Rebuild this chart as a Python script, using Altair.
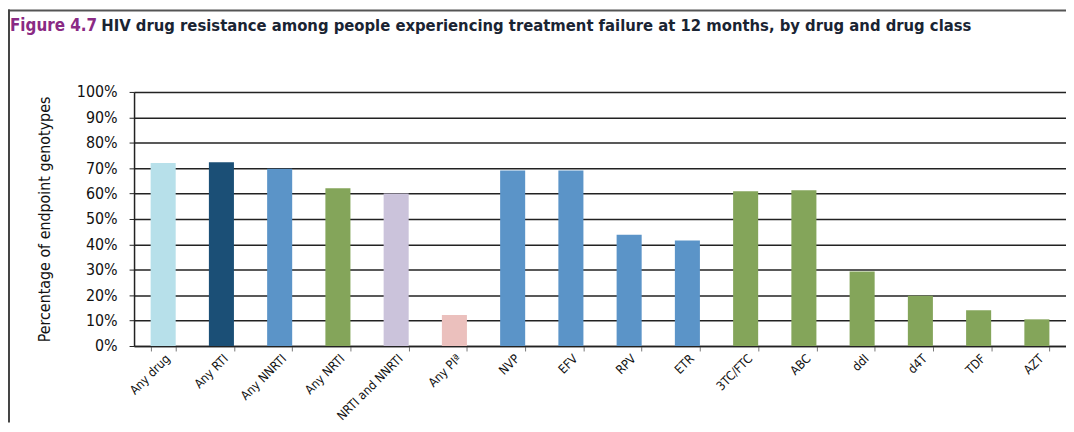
import altair as alt
import pandas as pd

categories = ["Any drug", "Any RTI", "Any NNRTI", "Any NRTI", "NRTI and NNRTI", "Any PIª",
              "NVP", "EFV", "RPV", "ETR", "3TC/FTC", "ABC", "ddI", "d4T", "TDF", "AZT"]
values = [72.0, 72.3, 69.8, 62.1, 60.0, 12.2, 69.1, 69.1, 43.8, 41.5, 60.9, 61.3, 29.3, 19.8, 14.1, 10.5]
y_ticks = [0, 10, 20, 30, 40, 50, 60, 70, 80, 90, 100]

palette = ["#B7E0EA", "#1B4F76", "#5B94C8", "#84A55A", "#CBC3DB", "#EBC0BD",
           "#5B94C8", "#5B94C8", "#5B94C8", "#5B94C8", "#84A55A", "#84A55A",
           "#84A55A", "#84A55A", "#84A55A", "#84A55A"]

title_fig = "Figure 4.7"
title_rest = "HIV drug resistance among people experiencing treatment failure at 12 months, by drug and drug class"
y_title = "Percentage of endpoint genotypes"

df = pd.DataFrame({"cat": categories, "val": values})

FONT = "DejaVu Sans Condensed, Roboto, sans-serif"

bars = alt.Chart(df).mark_bar().encode(
    x=alt.X("cat:N", sort=categories,
            scale=alt.Scale(paddingInner=0.57, paddingOuter=0.285),
            axis=alt.Axis(title=None, labelAngle=-45, labelFontSize=12.5, labelFont=FONT,
                          labelColor="#111", labelPadding=1, tickBand="extent",
                          tickSize=5, tickColor="#777", domainColor="#222", domainWidth=1.5,
                          grid=False)),
    y=alt.Y("val:Q", scale=alt.Scale(domain=[0, 100], nice=False),
            axis=alt.Axis(values=y_ticks, labelExpr="datum.value + '%'", title=y_title,
                          titleFont=FONT, titleFontSize=16, titleFontWeight="normal",
                          titleColor="#111", titleX=-90, titleY=128, titleAngle=-90,
                          titleAlign="center", titleBaseline="middle",
                          labelFont=FONT, labelFontSize=16, labelColor="#111", labelPadding=12,
                          tickSize=5, tickColor="#222", domainColor="#222", domainWidth=1.5,
                          grid=True, gridColor="#222", gridWidth=1.5)),
    color=alt.Color("cat:N", sort=categories,
                    scale=alt.Scale(domain=categories, range=palette), legend=None),
)

deco = alt.Data(values=[{}])

t1 = alt.Chart(deco).mark_text(text=title_fig, align="left", baseline="middle",
                               font=FONT, fontSize=17, fontWeight="bold", color="#8A2A84").encode(
    x=alt.value(-125), y=alt.value(-66))
t2 = alt.Chart(deco).mark_text(text=title_rest, align="left", baseline="middle",
                               font=FONT, fontSize=16.6, fontWeight="bold", color="#1A2433").encode(
    x=alt.value(-33), y=alt.value(-66))

top_line = alt.Chart(deco).mark_rule(color="#555", strokeWidth=2).encode(
    x=alt.value(-127), x2=alt.value(939), y=alt.value(-82))
left_line = alt.Chart(deco).mark_rule(color="#444", strokeWidth=2).encode(
    x=alt.value(-126), y=alt.value(-83), y2=alt.value(333))

chart = alt.layer(bars, t1, t2, top_line, left_line).properties(
    width=939, height=256,
    padding={"left": 127, "top": 83, "right": 0, "bottom": 77},
    autosize=alt.AutoSizeParams(type="none"),
).configure_view(stroke=None).configure(background="white")

chart.save("out.html", embed_options={"renderer": "svg", "actions": False})
